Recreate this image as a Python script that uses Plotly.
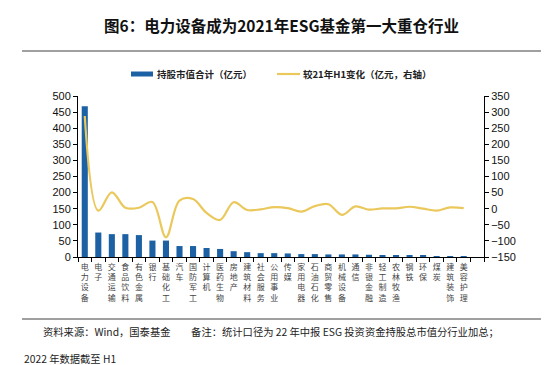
import plotly.graph_objects as go

categories = ["电力设备", "电子", "交通运输", "食品饮料", "有色金属", "银行", "基础化工", "汽车",
              "国防军工", "计算机", "医药生物", "房地产", "建筑材料", "社会服务", "公用事业", "传媒",
              "家用电器", "石油石化", "商贸零售", "机械设备", "通信", "非银金融", "轻工制造", "农林牧渔",
              "钢铁", "环保", "煤炭", "建筑装饰", "美容护理"]
holding_value = [468, 76, 71, 71, 68, 51, 51, 34, 34, 28, 25, 18, 15, 12, 12, 11, 9, 9, 8, 8, 8, 7,
                 6, 5, 4, 4, 3, 3, 1]
change_vs_21h1 = [288, -6, 51, 3, 3, 21, -89, 25, 30, -13, -35, 20, -4, -2, 5, 2, -9, 8, 14, -19, 7,
                  -3, 1, 1, 6, 0, -6, 4, 2]
left_ticks = list(range(0, 501, 50))
right_ticks = list(range(-150, 351, 50))

BLUE = "#1C61A4"
YELLOW = "#EAC85C"
CJK = "Noto Sans CJK SC"

ticktext = ["<br>".join(list(c)) for c in categories] + [""]
xcats = categories + [" "]

fig = go.Figure()
fig.add_trace(go.Bar(x=categories, y=holding_value, name="持股市值合计（亿元）",
                     marker=dict(color=BLUE, line=dict(width=0)), width=0.45, yaxis="y",
                     showlegend=False))
fig.add_trace(go.Scatter(x=categories, y=change_vs_21h1, name="较21年H1变化（亿元，右轴）",
                         mode="lines", line=dict(color=YELLOW, width=2.2, shape="spline", smoothing=1.0),
                         yaxis="y2", showlegend=False))

L, R, T, B = 70, 74, 88, 116
W, H = 550, 365
pw, ph = W - L - R, H - T - B

def px(x):
    return (x - L) / pw

def py(y):
    return (H - B - y) / ph

fig.update_layout(
    width=W, height=H,
    margin=dict(l=L, r=R, t=T, b=B),
    paper_bgcolor="white", plot_bgcolor="white",
    showlegend=False,
    bargap=0.5,
    xaxis=dict(categoryorder="array", categoryarray=xcats, tickmode="array",
               tickvals=xcats, ticktext=ticktext, range=[-0.5, 29.5],
               tickson="boundaries", ticks="outside", ticklen=4, tickcolor="#000000",
               showline=True, linecolor="#000000", linewidth=1, showgrid=False,
               tickangle=0, ticklabelstandoff=2,
               tickfont=dict(family=CJK, size=8, color="#444444")),
    yaxis=dict(range=[0, 500], tickmode="array", tickvals=left_ticks, ticks="outside",
               ticklen=4, tickcolor="#000000", showline=True, linecolor="#000000", linewidth=1,
               showgrid=False, zeroline=False,
               tickfont=dict(family="Liberation Sans, Arial", size=11, color="#111111")),
    yaxis2=dict(range=[-150, 350], tickmode="array", tickvals=right_ticks, overlaying="y",
                side="right", ticks="outside", ticklen=4, tickcolor="#000000", showline=True,
                linecolor="#000000", linewidth=1, showgrid=False, zeroline=False,
                tickfont=dict(family="Liberation Sans, Arial", size=11, color="#111111")),
)

# manual legend
fig.add_shape(type="rect", xref="paper", yref="paper", x0=px(123), x1=px(145), y0=py(68.5), y1=py(63.5),
              fillcolor=BLUE, line=dict(width=0))
fig.add_annotation(text="<b>持股市值合计（亿元）</b>", xref="paper", yref="paper", x=px(147), y=py(66),
                   xanchor="left", yanchor="middle", showarrow=False,
                   font=dict(family=CJK, size=9.5, color="#222222"))
fig.add_shape(type="line", xref="paper", yref="paper", x0=px(269), x1=px(292), y0=py(66), y1=py(66),
              line=dict(color=YELLOW, width=2.2))
fig.add_annotation(text="<b>较21年H1变化（亿元，右轴）</b>", xref="paper", yref="paper", x=px(293), y=py(66),
                   xanchor="left", yanchor="middle", showarrow=False,
                   font=dict(family=CJK, size=9.5, color="#222222"))

fig.add_annotation(text="<b>图6：电力设备成为2021年ESG基金第一大重仓行业</b>",
                   xref="paper", yref="paper", x=px(273), y=py(17), xanchor="center", yanchor="middle",
                   showarrow=False, font=dict(family=CJK, size=15.5, color="#111111"))
fig.add_shape(type="line", xref="paper", yref="paper", x0=px(14), x1=px(533), y0=py(43), y1=py(43),
              line=dict(color="#808080", width=1.5))
fig.add_shape(type="line", xref="paper", yref="paper", x0=px(14), x1=px(533), y0=py(311), y1=py(311),
              line=dict(color="#808080", width=1.5))
fig.add_annotation(text="资料来源：Wind，国泰基金　　备注：统计口径为 22 年中报 ESG 投资资金持股总市值分行业加总；",
                   xref="paper", yref="paper", x=px(33), y=py(323), xanchor="left", yanchor="middle",
                   showarrow=False, font=dict(family=CJK, size=10.3, color="#222222"))
fig.add_annotation(text="2022 年数据截至 H1",
                   xref="paper", yref="paper", x=px(14), y=py(350), xanchor="left", yanchor="middle",
                   showarrow=False, font=dict(family=CJK, size=10.3, color="#222222"))

fig.write_html("out.html")
